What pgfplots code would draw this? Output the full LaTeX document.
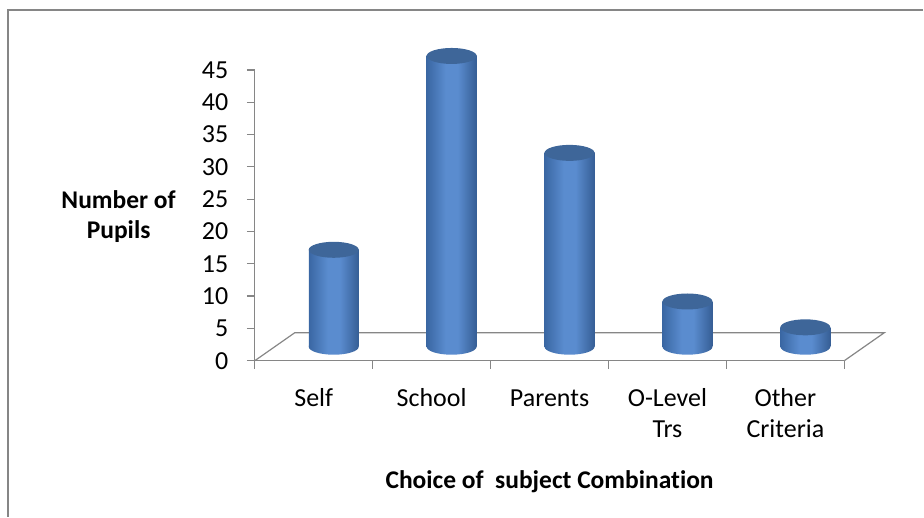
\documentclass[border=0pt]{standalone}
\usepackage{fontspec}
\setmainfont{Carlito}[Ligatures=NoCommon]
\usepackage{pgfplots}
\usepackage{pgfplotstable}
\pgfplotsset{compat=1.18}
\definecolor{axisgray}{HTML}{868686}
\definecolor{cylA}{HTML}{3A67A3}
\definecolor{cylB}{HTML}{5A8CCF}
\definecolor{cylC}{HTML}{365E95}
\definecolor{cyltopc}{HTML}{3E6699}
\pgfdeclarehorizontalshading{cylshade}{100bp}{color(0bp)=(cylA); color(25bp)=(cylA); color(44bp)=(cylB); color(56bp)=(cylB); color(75bp)=(cylC); color(100bp)=(cylC)}
\pgfdeclareplotmark{cyltop}{%
  \pgfpathellipse{\pgfpointorigin}{\pgfqpoint{25pt}{0pt}}{\pgfqpoint{0pt}{8pt}}%
  \pgfsetfillcolor{cyltopc}\pgfusepathqfill}
\pgfdeclareplotmark{cylbot}{%
  \pgfpathmoveto{\pgfqpoint{-25pt}{0pt}}%
  \pgfpatharc{180}{360}{25pt and 8pt}%
  \pgfpathlineto{\pgfqpoint{25pt}{1pt}}%
  \pgfpathlineto{\pgfqpoint{-25pt}{1pt}}%
  \pgfpathclose
  \pgfshadepath{cylshade}{0}\pgfusepath{discard}}
\pgfplotstableread{
x y base
0.5 15 0
1.5 45 0
2.5 30 0
3.5 7 0
4.5 3 0
}\datatable
\begin{document}
\begin{tikzpicture}[x=1pt,y=1pt]
\path (0,0) rectangle (924,517);
\draw[axisgray, line width=1.5pt] (8,0) -- (8,507) -- (924,507);
\begin{axis}[
  at={(255pt,156pt)}, anchor=south west,
  scale only axis, width=590pt, height=291pt,
  xmin=0, xmax=5, ymin=0, ymax=45,
  axis lines*=left,
  axis line style={axisgray, line width=1.2pt},
  tick align=outside,
  xtick={0.5,1.5,2.5,3.5,4.5},
  xticklabels={{\strut Self}, {\strut School}, {\strut Parents}, {\strut O-Level\\Trs}, {\strut Other\\Criteria}},
  minor xtick={0,1,2,3,4,5},
  major x tick style={draw=none},
  minor x tick style={axisgray, line width=1.2pt},
  ytick={0,5,...,45},
  y tick style={axisgray, line width=1.2pt},
  major tick length=8pt, minor tick length=8pt,
  /pgf/number format/assume math mode=true,
  ticklabel style={font=\fontsize{26}{31}\selectfont, text=black},
  xticklabel style={align=center, anchor=north, yshift=-13pt},
  yticklabel style={xshift=-15pt},
  xlabel={Choice of\ \ subject Combination},
  xlabel style={font=\bfseries\fontsize{25.5}{30}\selectfont, at={(axis description cs:0.5,-0.416)}, anchor=center},
  ylabel={Number of\\Pupils},
  ylabel style={font=\bfseries\fontsize{25.5}{30}\selectfont, align=center, rotate=-90, at={(axis description cs:-0.231,0.495)}, anchor=center},
  clip=false,
]
\draw[axisgray, line width=1.2pt] (axis cs:0,0) -- ++(40pt,28pt) -- ++(590pt,0pt) -- (axis cs:5,0);
\end{axis}
\begin{axis}[
  at={(275pt,170pt)}, anchor=south west,
  scale only axis, width=590pt, height=291pt,
  xmin=0, xmax=5, ymin=0, ymax=45,
  hide axis, clip=false,
]
\addplot[only marks, mark=cylbot] table[x=x, y=base] {\datatable};
\pgfplotsinvokeforeach{0,...,4}{
  \addplot[ybar, bar width=50pt, bar shift=0pt, draw=none, shade, shading=cylshade,
    restrict x to domain=#1.1:#1.9] table[x=x, y=y] {\datatable};
}
\addplot[only marks, mark=cyltop] table[x=x, y=y] {\datatable};
\end{axis}
\end{tikzpicture}
\end{document}
